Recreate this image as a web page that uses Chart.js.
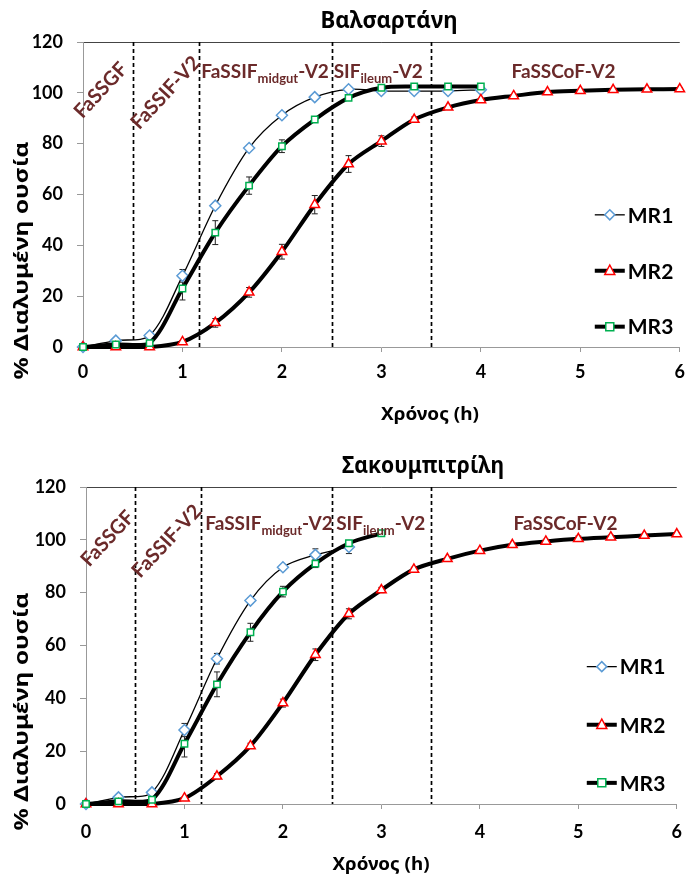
<!DOCTYPE html>
<html>
<head>
<meta charset="utf-8">
<script src="https://cdn.jsdelivr.net/npm/chart.js@4.4.1/dist/chart.umd.min.js"></script>
<style>
  body { margin: 0; background: #fff; }
  canvas { display: block; }
</style>
</head>
<body>
<canvas id="valsartanChart" width="694" height="440"></canvas>
<canvas id="sacubitrilChart" width="694" height="439"></canvas>
<script>
// sampling times (h)
const times = [0, 0.33, 0.67, 1, 1.33, 1.67, 2, 2.33, 2.67, 3, 3.33, 3.67, 4, 4.33, 4.67, 5, 5.33, 5.67, 6];
// media change points (h)
const phaseBounds = [0.5, 1.17, 2.5, 3.5];
const xTicks = [0, 1, 2, 3, 4, 5, 6];
const yTicks = [0, 20, 40, 60, 80, 100, 120];
const seriesNames = ['MR1', 'MR2', 'MR3'];

// Valsartan
const valMR1 = [0, 2.5, 4.5, 28, 55.6, 78.3, 91.2, 98.3, 101.4, 100.7, 100.7, 100.7, 101.2];
const valMR1Err = [0, 0.5, 0.5, 2.5, 1, 1, 1, 0.5, 0.5, 0.5, 0.5, 0.5, 0.5];
const valMR2 = [0, 0, 0, 2, 9.5, 21.5, 37.5, 56, 72, 81, 89.5, 94.3, 97.2, 98.8, 100.3, 100.8, 101.2, 101.4, 101.5];
const valMR2Err = [0, 0, 0, 0.5, 1.7, 1.9, 2.9, 3.6, 3.3, 2.1, 1, 0.5, 0.5, 0.5, 0.5, 0.5, 0.5, 0.5, 0.5];
const valMR3 = [0, 1, 1.5, 23, 45, 63.5, 79, 89.5, 98, 102, 102.5, 102.5, 102.5];
const valMR3Err = [0, 0.5, 0.5, 4.5, 4.7, 3.4, 2.5, 1, 0.5, 0.5, 0.5, 0.5, 0.5];

// Sacubitril
const sacMR1 = [0, 2.5, 4.4, 28, 55, 77, 89.6, 94.3, 97.3];
const sacMR1Err = [0, 0.5, 0.5, 2.5, 2, 1, 1, 2.3, 2.5];
const sacMR2 = [0, 0, 0, 2.2, 10.5, 22, 38.2, 56.5, 72, 81, 88.8, 92.8, 95.9, 98.1, 99.4, 100.4, 101, 101.6, 102.2];
const sacMR2Err = [0, 0, 0, 0.5, 1, 1, 1.5, 2.2, 1.9, 1, 0.8, 0.5, 0.5, 0.5, 0.8, 1, 0.8, 0.5, 0.5];
const sacMR3 = [0, 1, 1.6, 22.8, 45.3, 65, 80.4, 91, 98.7, 102.5];
const sacMR3Err = [0, 0.5, 0.5, 5, 4.7, 3.4, 2, 1.5, 0.5, 0.5];

const FONT = 'Lato';
const GREEK = '"Noto Sans"';
const PHASE_COLOR = '#6B2A2A';

const styles = [
  { color: '#5B9BD5', shape: 'rectRot', radius: 5.5, lineWidth: 1.3, order: 3 },
  { color: '#FF0000', shape: 'triangle', radius: 5.5, lineWidth: 4, order: 2 },
  { color: '#00B050', shape: 'rect', radius: 4.5, lineWidth: 4, order: 1 }
];

function drawMarker(ctx, shape, x, y, r, color) {
  ctx.save();
  ctx.beginPath();
  if (shape === 'rectRot') {
    ctx.moveTo(x, y - r); ctx.lineTo(x + r, y); ctx.lineTo(x, y + r); ctx.lineTo(x - r, y);
  } else if (shape === 'triangle') {
    ctx.moveTo(x, y - r * 1.15); ctx.lineTo(x + r, y + r * 0.75); ctx.lineTo(x - r, y + r * 0.75);
  } else {
    ctx.rect(x - r, y - r, r * 2, r * 2);
  }
  ctx.closePath();
  ctx.fillStyle = '#fff';
  ctx.fill();
  ctx.lineWidth = 1.5;
  ctx.strokeStyle = color;
  ctx.stroke();
  ctx.restore();
}

// bold Greek text, squeezed sideways to the given width (Calibri is narrow)
function squeezeText(ctx, text, x, y, size, width, angle) {
  ctx.save();
  ctx.font = `bold ${size}px ${GREEK}`;
  const sx = width / ctx.measureText(text).width;
  ctx.translate(x, y);
  if (angle) ctx.rotate(angle);
  ctx.scale(sx, 1);
  ctx.fillText(text, 0, 0);
  ctx.restore();
}

function subText(ctx, x, y, parts) {
  // parts: [text, isSub]
  parts.forEach(([t, sub]) => {
    ctx.font = sub ? `bold 13px ${FONT}` : `bold 19px ${FONT}`;
    ctx.fillText(t, x, sub ? y + 5 : y);
    x += ctx.measureText(t).width;
  });
}

const decorPlugin = {
  id: 'decor',
  beforeDatasetsDraw(chart) {
    const { ctx, chartArea, scales: { x, y } } = chart;
    const o = chart.options.plugins.decor;
    // phase boundaries
    ctx.save();
    ctx.strokeStyle = '#000';
    ctx.lineWidth = 1.7;
    ctx.setLineDash([4, 3]);
    phaseBounds.forEach(b => {
      const px = Math.round(x.getPixelForValue(b)) + 0.5;
      ctx.beginPath();
      ctx.moveTo(px, chartArea.top);
      ctx.lineTo(px, chartArea.bottom);
      ctx.stroke();
    });
    ctx.restore();
    // error bars
    ctx.save();
    ctx.strokeStyle = '#222';
    ctx.lineWidth = 1;
    o.errors.forEach((errs, di) => {
      const vals = chart.data.datasets[di].data;
      errs.forEach((e, i) => {
        if (!e) return;
        const px = x.getPixelForValue(vals[i].x);
        const top = y.getPixelForValue(vals[i].y + e);
        const bot = y.getPixelForValue(vals[i].y - e);
        ctx.beginPath();
        ctx.moveTo(px, top); ctx.lineTo(px, bot);
        ctx.moveTo(px - 3, top); ctx.lineTo(px + 3, top);
        ctx.moveTo(px - 3, bot); ctx.lineTo(px + 3, bot);
        ctx.stroke();
      });
    });
    ctx.restore();
  },
  afterDraw(chart) {
    const { ctx, chartArea, scales: { x, y } } = chart;
    const o = chart.options.plugins.decor;
    ctx.save();
    ctx.fillStyle = '#000';
    ctx.textBaseline = 'middle';
    ctx.textAlign = 'center';
    // chart title and axis titles
    squeezeText(ctx, o.title, o.titleX, o.titleY, 23, o.titleW);
    squeezeText(ctx, 'Χρόνος (h)', o.xTitleX, o.xTitleY, 18, o.xTitleW);
    squeezeText(ctx, '% Διαλυμένη ουσία', 22, (chartArea.top + chartArea.bottom) / 2 + 66, 20, 238, -Math.PI / 2);

    // phase labels
    ctx.fillStyle = PHASE_COLOR;
    ctx.font = `bold 20px ${FONT}`;
    o.rotLabels.forEach(([txt, t, v]) => {
      ctx.save();
      ctx.translate(x.getPixelForValue(t), y.getPixelForValue(v));
      ctx.rotate(-47 * Math.PI / 180);
      ctx.fillText(txt, 0, 0);
      ctx.restore();
    });
    ctx.textAlign = 'left';
    ctx.textBaseline = 'alphabetic';
    const base = y.getPixelForValue(o.labelV);
    subText(ctx, x.getPixelForValue(phaseBounds[1]) + o.labelPad, base, [['FaSSIF', false], ['midgut', true], ['-V2', false]]);
    subText(ctx, x.getPixelForValue(phaseBounds[2]) + o.labelPad, base, [['SIF', false], ['ileum', true], ['-V2', false]]);
    ctx.textAlign = 'center';
    ctx.font = `bold 19px ${FONT}`;
    ctx.fillText('FaSSCoF-V2', x.getPixelForValue(o.cofT), base);

    // legend
    ctx.textAlign = 'left';
    ctx.textBaseline = 'middle';
    ctx.fillStyle = '#000';
    ctx.font = `bold 21px ${FONT}`;
    seriesNames.forEach((name, i) => {
      const st = styles[i];
      const ly = y.getPixelForValue(52 - i * 22);
      const lx = chartArea.right - o.legendOff;
      ctx.beginPath();
      ctx.strokeStyle = '#000';
      ctx.lineWidth = st.lineWidth;
      ctx.moveTo(lx, ly); ctx.lineTo(lx + 30, ly);
      ctx.stroke();
      drawMarker(ctx, st.shape, lx + 15, ly, st.radius - 0.5, st.color);
      ctx.fillText(name, lx + 33, ly + 1);
    });
    ctx.restore();
  }
};

function buildChart(canvasId, seriesData, seriesErr, o) {
  const canvas = document.getElementById(canvasId);
  new Chart(canvas.getContext('2d'), {
    type: 'line',
    data: {
      datasets: seriesData.map((vals, i) => ({
        label: seriesNames[i],
        data: vals.map((v, k) => ({ x: times[k], y: v })),
        borderColor: '#000',
        borderWidth: styles[i].lineWidth,
        pointStyle: styles[i].shape,
        pointRadius: styles[i].radius,
        pointBorderColor: styles[i].color,
        pointBackgroundColor: '#fff',
        pointBorderWidth: 1.5,
        tension: 0.3,
        order: styles[i].order,
        clip: false
      }))
    },
    options: {
      responsive: false,
      animation: false,
      layout: { padding: { top: o.padTop, right: o.padRight, left: 0, bottom: 0 } },
      plugins: {
        legend: { display: false },
        tooltip: { enabled: false },
        decor: {
          title: o.title, titleX: o.titleX, titleY: o.titleY, titleW: o.titleW,
          xTitleX: o.xTitleX, xTitleY: o.xTitleY, xTitleW: o.xTitleW,
          errors: seriesErr,
          rotLabels: o.rotLabels,
          labelV: o.labelV, labelPad: o.labelPad, cofT: o.cofT,
          legendOff: o.legendOff
        }
      },
      scales: {
        x: {
          type: 'linear', min: 0, max: 6,
          afterBuildTicks: s => { s.ticks = xTicks.map(v => ({ value: v })); },
          ticks: { color: '#000', font: { family: FONT, size: 18, weight: 'bold' }, padding: o.xTickPad },
          grid: { drawOnChartArea: false, tickLength: 5, tickColor: '#999' },
          border: { color: '#999' },
          afterFit: s => { s.height = o.xAxisH; }
        },
        y: {
          min: 0, max: 120,
          afterBuildTicks: s => { s.ticks = yTicks.map(v => ({ value: v })); },
          ticks: { color: '#000', font: { family: FONT, size: 18, weight: 'bold' }, padding: 14 },
          grid: {
            color: c => (c.tick && c.tick.value === 120 ? '#444' : 'rgba(0,0,0,0)'),
            tickLength: 6, tickColor: '#999'
          },
          border: { color: '#999' },
          afterFit: s => { s.width = o.yAxisW; }
        }
      }
    },
    plugins: [decorPlugin]
  });
}

buildChart('valsartanChart', [valMR1, valMR2, valMR3], [valMR1Err, valMR2Err, valMR3Err], {
  title: 'Βαλσαρτάνη', titleX: 389, titleY: 21, titleW: 137,
  xTitleX: 430, xTitleY: 415, xTitleW: 98,
  padTop: 42, padRight: 6, yAxisW: 83, xAxisH: 93, xTickPad: 9,
  rotLabels: [['FaSSGF', 0.18, 101], ['FaSSIF-V2', 0.83, 100]],
  labelV: 106, labelPad: 2, cofT: 4.83, legendOff: 85
});

buildChart('sacubitrilChart', [sacMR1, sacMR2, sacMR3], [sacMR1Err, sacMR2Err, sacMR3Err], {
  title: 'Σακουμπιτρίλη', titleX: 423, titleY: 26, titleW: 162,
  xTitleX: 381, xTitleY: 425, xTitleW: 97,
  padTop: 47, padRight: 4, yAxisW: 86, xAxisH: 75, xTickPad: 12,
  rotLabels: [['FaSSGF', 0.22, 100.5], ['FaSSIF-V2', 0.82, 99.5]],
  labelV: 103.8, labelPad: 4, cofT: 4.87, legendOff: 90
});
</script>
</body>
</html>
